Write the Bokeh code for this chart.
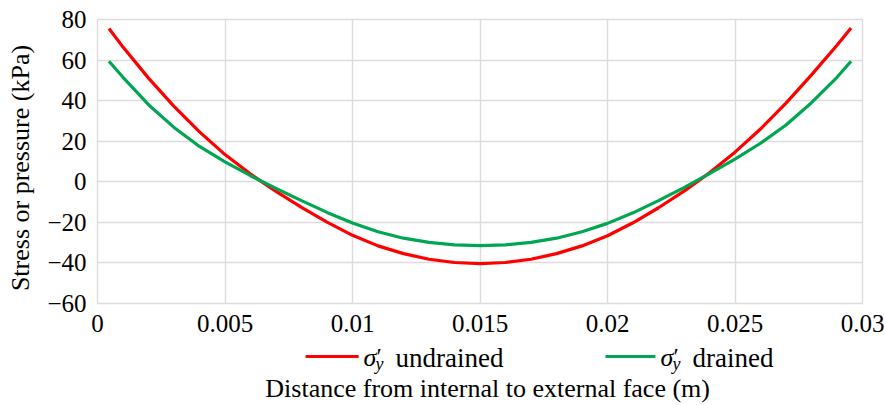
from bokeh.plotting import figure
from bokeh.models import FixedTicker, Range1d
from bokeh.layouts import column
from bokeh.core.properties import value
from bokeh.embed import file_html
from bokeh.resources import INLINE

# ---- data ----
x_m = [0.00045, 0.001, 0.002, 0.003, 0.004, 0.005, 0.006, 0.007, 0.008, 0.009, 0.010,
       0.011, 0.012, 0.013, 0.014, 0.015, 0.016, 0.017, 0.018, 0.019, 0.020,
       0.021, 0.022, 0.023, 0.024, 0.025, 0.026, 0.027, 0.028, 0.029, 0.02955]
undrained = [75.6, 66.4, 51.1, 37.2, 24.6, 13.4, 3.8, -4.7, -12.6, -19.9, -26.4,
             -31.6, -35.4, -38.2, -39.8, -40.3, -39.8, -38.2, -35.4, -31.6, -26.6,
             -20.2, -12.8, -4.6, 4.4, 14.6, 26.0, 38.8, 52.7, 67.3, 75.8]
drained = [59.4, 51.5, 38.0, 26.8, 17.4, 9.8, 3.0, -3.3, -9.3, -15.1, -20.3,
           -24.6, -27.8, -29.9, -31.1, -31.5, -31.1, -29.9, -27.8, -24.6, -20.5,
           -15.3, -9.3, -2.9, 4.0, 11.2, 19.0, 28.0, 39.0, 51.5, 59.4]

x_ticks = [0, 0.005, 0.01, 0.015, 0.02, 0.025, 0.03]
x_tick_labels = ["0", "0.005", "0.01", "0.015", "0.02", "0.025", "0.03"]
y_ticks = [-60, -40, -20, 0, 20, 40, 60, 80]
y_tick_labels = ["\u221260", "\u221240", "\u221220", "0", "20", "40", "60", "80"]

series_names = ["undrained", "drained"]
series_colors = ["#ff0000", "#00a651"]
x_title = "Distance from internal to external face (m)"
y_title = "Stress or pressure (kPa)"

SERIF = "Liberation Serif"
W = 885
BL, BR = 97, 23

p = figure(width=W, height=340, x_range=Range1d(0, 0.03), y_range=Range1d(-60, 80),
           output_backend="svg", toolbar_location=None,
           min_border_left=BL, min_border_right=BR, min_border_top=19, min_border_bottom=37)
p.background_fill_color = "white"
p.border_fill_color = "white"
p.outline_line_color = "#dcdcdc"
p.outline_line_width = 1.4

for ax, ticks, labels in ((p.xaxis, x_ticks, x_tick_labels), (p.yaxis, y_ticks, y_tick_labels)):
    ax.ticker = FixedTicker(ticks=ticks)
    ax.major_label_overrides = {t: l for t, l in zip(ticks, labels)}
    ax.axis_line_color = None
    ax.major_tick_line_color = None
    ax.minor_tick_line_color = None
    ax.major_label_text_font = SERIF
    ax.major_label_text_font_size = "25px"
    ax.major_label_text_color = "black"
p.xaxis.major_label_standoff = 5
p.yaxis.major_label_standoff = 5
p.yaxis.axis_label = y_title + "\u00a0\u00a0"
p.yaxis.axis_label_text_font = SERIF
p.yaxis.axis_label_text_font_size = "26px"
p.yaxis.axis_label_text_font_style = "normal"
p.yaxis.axis_label_text_color = "black"
p.yaxis.axis_label_standoff = 9

p.xgrid.ticker = FixedTicker(ticks=x_ticks)
p.ygrid.ticker = FixedTicker(ticks=y_ticks)
p.grid.grid_line_color = "#dcdcdc"
p.grid.grid_line_width = 1.4

p.line(x_m, undrained, line_color=series_colors[0], line_width=3.2, line_join="round")
p.line(x_m, drained, line_color=series_colors[1], line_width=3.2, line_join="round")

# ---- legend + x-axis title strip ----
H2 = 65
p2 = figure(width=W, height=H2, x_range=p.x_range, y_range=Range1d(0, H2),
            output_backend="svg", toolbar_location=None,
            x_axis_type=None, y_axis_type=None,
            min_border_left=BL, min_border_right=BR, min_border_top=0, min_border_bottom=0)
p2.grid.visible = False
p2.outline_line_color = None
p2.background_fill_color = "white"
p2.border_fill_color = "white"

px = 0.03 / (W - BL - BR)          # data units per pixel
leg_line_y = 49
leg_base = 48
leg_pos = [(0.00816, 0.01024, 0.01043), (0.01992, 0.02188, 0.02208)]
for (xs, xe, xt), name, col in zip(leg_pos, series_names, series_colors):
    p2.line([xs, xe], [leg_line_y, leg_line_y], line_color=col, line_width=3.2)
    p2.text(x=[xt], y=[leg_base], text=["\u03c3"], text_font=value(SERIF),
            text_font_style="italic", text_font_size="26px", text_baseline="alphabetic",
            text_color="black")
    p2.text(x=[xt + 13 * px], y=[leg_base + 2], text=["\u2032"], text_font=value(SERIF),
            text_font_size="24px", text_baseline="alphabetic", text_color="black")
    p2.text(x=[xt + 12 * px], y=[leg_base - 6], text=["y"], text_font=value(SERIF),
            text_font_style="italic", text_font_size="18px", text_baseline="alphabetic",
            text_color="black")
    p2.text(x=[xt + 32 * px], y=[leg_base], text=[name], text_font=value(SERIF),
            text_font_size="27px", text_baseline="alphabetic", text_color="black")

p2.text(x=[0.0153], y=[17], text=[x_title], text_font=value(SERIF), text_font_size="26px",
        text_align="center", text_baseline="alphabetic", text_color="black")

open("out.html", "w").write(file_html(column(p, p2), INLINE))
